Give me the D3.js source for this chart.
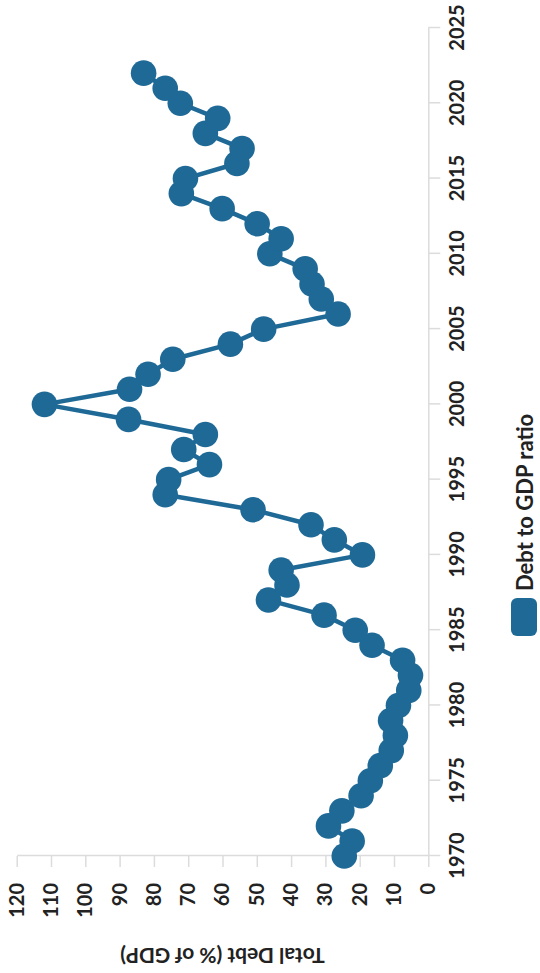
<!DOCTYPE html>
<html><head><meta charset="utf-8">
<script src="https://cdn.jsdelivr.net/npm/d3@7"></script>
<style>
body{margin:0;background:#fff}
svg{display:block}
text{font-family:Lato,"DejaVu Sans",sans-serif;font-weight:700}
</style>
</head><body>
<svg id="c" width="540" height="973"></svg>
<script>
const years = [1970,1971,1972,1973,1974,1975,1976,1977,1978,1979,1980,1981,1982,1983,1984,1985,1986,1987,1988,1989,1990,1991,1992,1993,1994,1995,1996,1997,1998,1999,2000,2001,2002,2003,2004,2005,2006,2007,2008,2009,2010,2011,2012,2013,2014,2015,2016,2017,2018,2019,2020,2021,2022];
const debt = [24.5,22.2,29.1,25.2,19.6,16.9,14.0,10.8,9.6,11.0,8.7,5.7,5.2,7.5,16.4,21.3,30.4,46.6,41.2,42.9,19.2,27.4,34.2,51.1,76.7,75.7,63.8,71.3,65.0,87.4,111.9,87.1,81.7,74.5,57.7,48.0,26.3,31.2,33.9,35.9,46.2,42.9,49.9,60.1,72.0,70.8,55.8,54.3,65.0,61.4,72.3,76.7,83.0];
const yearTicks = [1970,1975,1980,1985,1990,1995,2000,2005,2010,2015,2020,2025];
const debtTicks = [0,10,20,30,40,50,60,70,80,90,100,110,120];
const seriesName = "Debt to GDP ratio";
const axisTitle = "Total Debt (% of GDP)";

const color = "#1f6997";
const data = years.map((yr,i)=>({year:yr, value:debt[i]}));

const svg = d3.select("#c");
// chart is drawn in landscape (973 x 540) and rotated -90deg onto the portrait page
const g = svg.append("g").attr("transform","translate(0,973) rotate(-90)");

const x = d3.scaleLinear().domain([1970,2025]).range([117,945]);
const y = d3.scaleLinear().domain([0,120]).range([428.3,16.7]);

const xAxis = g.append("g").attr("transform",`translate(0,${y(0)})`)
  .call(d3.axisBottom(x).tickValues(yearTicks).tickFormat(d3.format("d")).tickSize(12).tickSizeOuter(0).tickPadding(10));
const yAxis = g.append("g").attr("transform",`translate(${x(1970)},0)`)
  .call(d3.axisLeft(y).tickValues(debtTicks).tickSize(11).tickSizeOuter(0).tickPadding(16));
[xAxis,yAxis].forEach(a=>{
  a.selectAll("path.domain").attr("stroke","#dcdcdc").attr("stroke-width",1.5);
  a.selectAll(".tick line").attr("stroke","#dcdcdc").attr("stroke-width",1.5);
  a.selectAll(".tick text").attr("fill","#222").style("font-size","20px").style("font-weight","700").style("font-family","Lato, 'DejaVu Sans', sans-serif");
});

g.append("text")
  .attr("transform",`translate(17,${(y(0)+y(120))/2}) rotate(-90)`)
  .attr("text-anchor","middle").attr("dominant-baseline","central")
  .attr("fill","#222").style("font-size","21px")
  .text(axisTitle);

const line = d3.line().x(d=>x(d.year)).y(d=>y(d.value));
g.append("path").datum(data).attr("d",line)
  .attr("fill","none").attr("stroke",color).attr("stroke-width",4.5).attr("stroke-linejoin","round");

g.append("g").selectAll("circle").data(data).join("circle")
  .attr("cx",d=>x(d.year)).attr("cy",d=>y(d.value)).attr("r",12.8).attr("fill",color);

const leg = g.append("g").attr("transform","translate(337,511)");
leg.append("rect").attr("width",38).attr("height",26).attr("rx",6).attr("fill",color);
leg.append("text").attr("x",45).attr("y",13).attr("dominant-baseline","central")
  .attr("fill","#222").style("font-size","22px").text(seriesName);
</script>
</body></html>
